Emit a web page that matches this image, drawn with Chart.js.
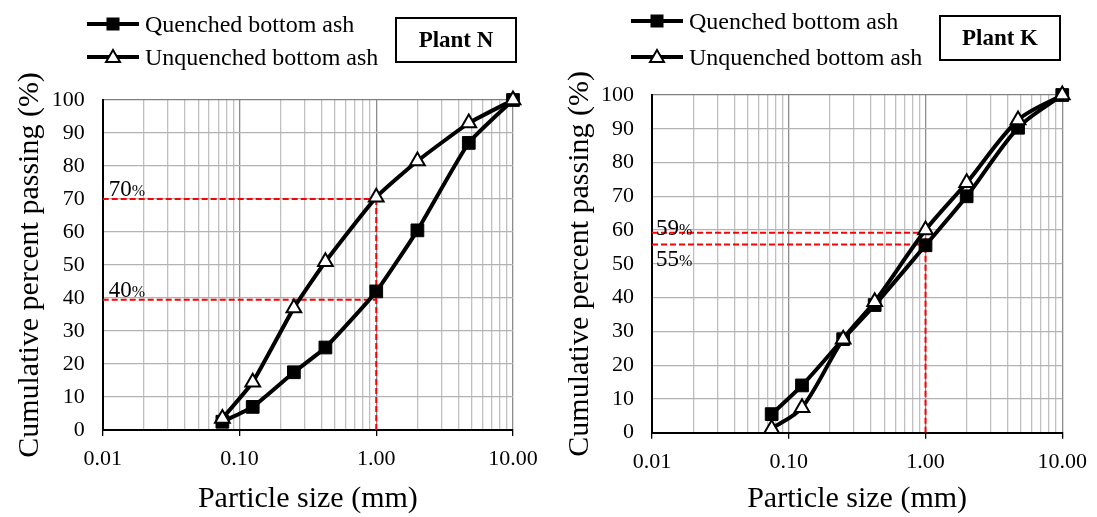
<!DOCTYPE html>
<html>
<head>
<meta charset="utf-8">
<script src="https://cdn.jsdelivr.net/npm/chart.js@4.4.0/dist/chart.umd.min.js"></script>
<style>
  body { margin: 0; background: #fff; width: 1097px; height: 517px; position: relative; overflow: hidden; font-family: "Liberation Serif", "Times New Roman", serif; }
  .panel { position: absolute; top: 0; width: 548px; height: 517px; }
  .panel canvas { position: absolute; left: 0; top: 0; }
  .row { position: absolute; display: flex; align-items: center; white-space: nowrap; height: 30px; font-size: 24px; color: #000; }
  .row svg { margin-right: 6px; }
  .plant { position: absolute; border: 2px solid #000; box-sizing: border-box; font-weight: bold; font-size: 23px; display: flex; align-items: center; justify-content: center; background: #fff; }
</style>
</head>
<body>
<div class="panel" style="left:0">
  <canvas id="chartN" width="548" height="517"></canvas>
  <div class="row" style="left:87px; top:9px">
    <svg width="52" height="20"><line x1="0" y1="10" x2="52" y2="10" stroke="#000" stroke-width="4"/><rect x="19.5" y="3.5" width="13" height="13" fill="#000"/></svg>Quenched bottom ash
  </div>
  <div class="row" style="left:87px; top:42px">
    <svg width="52" height="20"><line x1="0" y1="10" x2="52" y2="10" stroke="#000" stroke-width="4"/><polygon points="26,3 33,15 19,15" fill="#fff" stroke="#000" stroke-width="2"/></svg>Unquenched bottom ash
  </div>
  <div class="plant" style="left:395px; top:17px; width:122px; height:46px">Plant N</div>
</div>
<div class="panel" style="left:549px">
  <canvas id="chartK" width="548" height="517"></canvas>
  <div class="row" style="left:82px; top:6px">
    <svg width="52" height="20"><line x1="0" y1="10" x2="52" y2="10" stroke="#000" stroke-width="4"/><rect x="19.5" y="3.5" width="13" height="13" fill="#000"/></svg>Quenched bottom ash
  </div>
  <div class="row" style="left:82px; top:42px">
    <svg width="52" height="20"><line x1="0" y1="10" x2="52" y2="10" stroke="#000" stroke-width="4"/><polygon points="26,3 33,15 19,15" fill="#fff" stroke="#000" stroke-width="2"/></svg>Unquenched bottom ash
  </div>
  <div class="plant" style="left:390px; top:15px; width:122px; height:46px">Plant K</div>
</div>

<script>
// sieve sizes (mm)
const sizes = [0.075, 0.125, 0.25, 0.425, 1, 2, 4.75, 10];

// Plant N
const quenchedN = [2.5, 7, 17.5, 25, 42, 60.5, 87, 100];
const unquenchedN = [3.5, 14.5, 37, 51, 70.5, 81.5, 93, 100];
const refN = [70, 39.5];
const refLabelsN = ["70", "40"];

// Plant K
const quenchedK = [5.5, 14, 27.7, 37.8, 55.5, 70, 90.3, 100];
const unquenchedK = [1.2, 7.4, 27.7, 38.8, 60, 74, 92.6, 100];
const refK = [59.2, 55.7];
const refLabelsK = ["59", "55"];

// axis ticks
const xDecades = [0.01, 0.1, 1, 10];
const xTickLabels = ["0.01", "0.10", "1.00", "10.00"];
const xMultipliers = [1, 2, 3, 4, 5, 6, 7, 8, 9];

const FONT = "'Liberation Serif', 'Times New Roman', serif";
const W = 548, H = 517;

const xTickValues = [];
xDecades.forEach((d, i) => {
  if (i === xDecades.length - 1) { xTickValues.push(d); return; }
  xMultipliers.forEach((m) => xTickValues.push(Number((m * d).toPrecision(3))));
});

const isDecade = (v) => xDecades.some((d) => Math.abs(d - v) < d * 1e-6);

// draws the "70%" style labels next to the red dashed lines
const refLabelPlugin = {
  id: "refLabels",
  afterDatasetsDraw(chart, args, opts) {
    const ctx = chart.ctx;
    const xs = chart.scales.x, ys = chart.scales.y;
    ctx.save();
    ctx.fillStyle = "#000";
    ctx.textBaseline = "alphabetic";
    opts.values.forEach((v, i) => {
      const px = xs.getPixelForValue(0.01) + opts.dx;
      const py = ys.getPixelForValue(v) + opts.dy[i];
      ctx.font = "23px " + FONT;
      ctx.fillText(opts.labels[i], px, py);
      const w = ctx.measureText(opts.labels[i]).width;
      ctx.font = "16px " + FONT;
      ctx.fillText("%", px + w, py);
    });
    ctx.restore();
  },
};

function makeChart(id, quenched, unquenched, refs, refLabels, geom) {
  const redLines = refs.map((r) => ({
    data: [{ x: 0.01, y: r }, { x: 1, y: r }],
    borderColor: "#ff0000",
    borderWidth: 2,
    borderDash: [6, 3],
    pointRadius: 0,
    order: 2,
  }));
  redLines.push({
    data: [{ x: 1, y: 0 }, { x: 1, y: Math.max(...refs) }],
    borderColor: "#ff0000",
    borderWidth: 2,
    borderDash: [6, 3],
    pointRadius: 0,
    order: 2,
  });

  return new Chart(document.getElementById(id), {
    type: "line",
    data: {
      datasets: [
        {
          label: "Unquenched bottom ash",
          data: sizes.map((s, i) => ({ x: s, y: unquenched[i] })),
          borderColor: "#000",
          borderWidth: 4,
          pointStyle: "triangle",
          pointRadius: 8.5,
          pointBackgroundColor: "#fff",
          pointBorderColor: "#000",
          pointBorderWidth: 2,
          tension: geom.tension,
          clip: false,
          order: 0,
        },
        {
          label: "Quenched bottom ash",
          data: sizes.map((s, i) => ({ x: s, y: quenched[i] })),
          borderColor: "#000",
          borderWidth: 4,
          pointStyle: "rect",
          pointRadius: 9,
          pointBackgroundColor: "#000",
          pointBorderColor: "#000",
          pointBorderWidth: 1,
          tension: geom.tension,
          clip: false,
          order: 1,
        },
        ...redLines,
      ],
    },
    options: {
      responsive: false,
      animation: false,
      events: [],
      layout: {
        padding: { top: geom.top, right: W - geom.right, left: 0, bottom: 0 },
      },
      scales: {
        x: {
          type: "logarithmic",
          min: 0.01,
          max: 10,
          afterBuildTicks: (scale) => {
            scale.ticks = xTickValues.map((v) => ({ value: v }));
          },
          afterFit: (scale) => {
            scale.height = H - geom.bottom;
          },
          ticks: {
            autoSkip: false,
            maxRotation: 0,
            padding: 10,
            color: "#000",
            font: { family: FONT, size: 22 },
            callback: (value) => {
              const idx = xDecades.findIndex((d) => Math.abs(d - value) < d * 1e-6);
              return idx >= 0 ? xTickLabels[idx] : "";
            },
          },
          grid: {
            color: (c) => (c.tick && isDecade(c.tick.value) ? "#8c8c8c" : "#c0c0c0"),
            tickColor: (c) => (c.tick && isDecade(c.tick.value) ? "#000" : "rgba(0,0,0,0)"),
            tickLength: 6,
            lineWidth: 1.3,
          },
          border: { color: "#000", width: 2 },
          title: {
            display: true,
            text: "Particle size (mm)",
            color: "#000",
            font: { family: FONT, size: 30 },
            padding: { top: 0, bottom: geom.xTitlePad },
          },
        },
        y: {
          min: 0,
          max: 100,
          afterFit: (scale) => {
            scale.width = geom.left;
          },
          ticks: {
            stepSize: 10,
            padding: 18,
            color: "#000",
            font: { family: FONT, size: 22 },
          },
          grid: {
            color: (c) => (c.tick && c.tick.value === 100 ? "#808080" : "#b3b3b3"),
            lineWidth: 1.3,
            drawTicks: false,
          },
          border: { color: "#000", width: 2 },
          title: {
            display: true,
            text: "Cumulative percent passing (%)",
            color: "#000",
            font: { family: FONT, size: 30 },
            padding: { top: geom.yTitlePad, bottom: 0 },
          },
        },
      },
      plugins: {
        legend: { display: false },
        tooltip: { enabled: false },
        refLabels: { values: refs, labels: refLabels, dx: geom.labelDx, dy: geom.labelDy },
      },
    },
    plugins: [refLabelPlugin],
  });
}

makeChart("chartN", quenchedN, unquenchedN, refN, refLabelsN, {
  left: 102.7, right: 513, top: 100, bottom: 430,
  tension: 0.15, xTitlePad: 0, yTitlePad: 12,
  labelDx: 6, labelDy: [-3, -3],
});

makeChart("chartK", quenchedK, unquenchedK, refK, refLabelsK, {
  left: 103, right: 515, top: 95, bottom: 432.7,
  tension: 0.3, xTitlePad: 0, yTitlePad: 13,
  labelDx: 4, labelDy: [2, 21],
});
</script>
</body>
</html>
